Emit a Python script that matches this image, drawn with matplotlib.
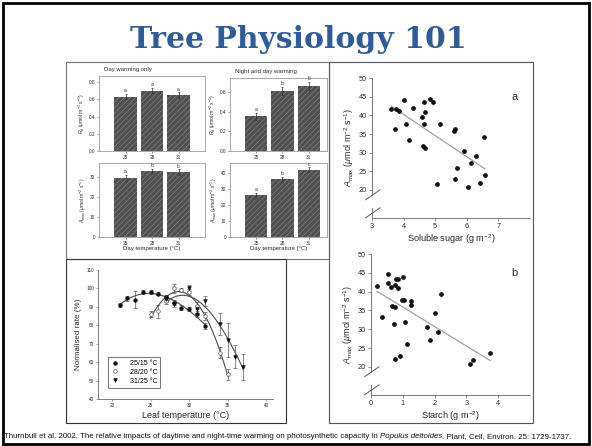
import numpy as np
import matplotlib
matplotlib.use("Agg")
import matplotlib.pyplot as plt
from matplotlib.patches import Rectangle
from matplotlib.lines import Line2D

# ---------------- data ----------------
title_text = "Tree Physiology 101"
footer_plain = ("Thurnbull et al. 2002, The relative impacts of daytime and night-time "
                "warming on photosynthetic capacity in ")
footer_italic = "Populus deltoides"
footer_tail = ". Plant, Cell, Environ. 25: 1729-1737."

day_temps = ["25", "28", "31"]
rd_day = [0.63, 0.70, 0.65]
rd_day_err = [0.03, 0.03, 0.03]
rd_day_letters = ["a", "a", "a"]
rd_night = [0.35, 0.61, 0.66]
rd_night_err = [0.04, 0.04, 0.04]
rd_night_letters = ["a", "b", "b"]
amax_day = [29.5, 32.8, 32.5]
amax_day_err = [1.6, 1.3, 1.3]
amax_day_letters = ["a", "b", "b"]
amax_night = [26.0, 35.8, 41.7]
amax_night_err = [1.5, 1.5, 1.6]
amax_night_letters = ["a", "b", "c"]

sugar_x = [3.61, 3.76, 3.87, 3.72, 4.02, 4.08, 4.17, 4.31, 4.57, 4.64, 4.68, 4.66,
           4.62, 4.67, 4.84, 4.94, 5.16, 5.06, 5.62, 5.60, 5.62, 5.70, 5.90, 6.05,
           6.12, 6.30, 6.43, 6.55, 6.57]
sugar_y = [41.6, 41.8, 41.1, 36.4, 44.0, 37.8, 33.3, 42.0, 39.5, 43.5, 41.0, 37.8,
           31.7, 31.2, 44.5, 43.5, 37.6, 21.6, 36.4, 35.7, 23.0, 25.9, 30.4, 20.8,
           27.2, 29.1, 21.8, 34.2, 23.9]

starch_x = [0.19, 0.36, 0.55, 0.52, 0.64, 0.67, 0.74, 0.78, 0.84, 0.85, 0.74, 0.72,
            0.77, 0.90, 1.02, 0.97, 1.05, 1.07, 1.13, 1.25, 1.27, 1.75, 1.84, 2.00,
            2.10, 2.20, 3.10, 3.20, 3.75]
starch_y = [41.6, 33.3, 44.6, 42.2, 41.3, 36.3, 41.8, 43.5, 43.5, 41.1, 35.8, 31.3,
            22.0, 23.0, 44.0, 37.8, 37.8, 32.0, 26.0, 37.5, 36.5, 30.5, 27.2, 34.3,
            29.2, 39.5, 20.8, 21.8, 23.8]

leaf_t_a = [21, 22, 23, 24, 25, 26, 27, 28, 29, 30, 31, 32]
rate_a = [91.0, 94.5, 93.8, 98.0, 98.0, 97.0, 95.2, 92.2, 89.5, 88.6, 86.0, 79.5]
err_a = [1.2, 1.5, 4.5, 1.2, 1.2, 0.8, 1.0, 1.5, 1.2, 1.2, 1.8, 1.8]

leaf_t_b = [25, 26, 27, 28, 29, 30, 31, 32, 34, 35]
rate_b = [86.0, 87.6, 93.0, 100.0, 99.0, 98.0, 90.5, 85.0, 65.0, 53.5]
err_b = [1.5, 3.5, 1.5, 2.5, 1.0, 1.5, 2.0, 2.0, 3.0, 3.0]

leaf_t_c = [27, 28, 30, 31, 32, 34, 35, 36, 37]
rate_c = [94.0, 91.5, 100.0, 88.5, 93.0, 80.5, 72.0, 63.0, 57.5]
err_c = [1.5, 1.5, 1.5, 2.0, 2.5, 6.0, 9.0, 6.0, 7.0]
leaf_labels = ["25/15 \u00b0C", "28/20 \u00b0C", "31/25 \u00b0C"]

# ---------------- figure ----------------
W, H = 592, 446
plt.rcParams['font.family'] = ['Liberation Sans', 'DejaVu Sans']
plt.rcParams['mathtext.fontset'] = 'custom'
plt.rcParams['mathtext.rm'] = 'Liberation Sans'
plt.rcParams['mathtext.it'] = 'Liberation Sans:italic'
plt.rcParams['hatch.linewidth'] = 0.4
fig = plt.figure(figsize=(W / 100, H / 100), dpi=100)
fig.patch.set_facecolor('white')


def ax_px(x0, y0, x1, y1):
    return fig.add_axes([x0 / W, 1 - y1 / H, (x1 - x0) / W, (y1 - y0) / H])


def fig_rect(x0, y0, x1, y1, color, lw):
    fig.patches.append(Rectangle((x0 / W, 1 - y1 / H), (x1 - x0) / W, (y1 - y0) / H,
                                 transform=fig.transFigure, fill=False,
                                 edgecolor=color, linewidth=lw, zorder=5))


def ftext(x, y, s, **kw):
    return fig.text(x / W, 1 - y / H, s, **kw)


TXT = '#2a2a2a'
# slide frame
fig_rect(3, 3, 589, 444, 'black', 2.0)

# title
ftext(298, 40, title_text, ha='center', va='center', fontsize=21.5, fontweight='bold',
      family='DejaVu Serif', color='#2e5b9a')

# panel frames
fig_rect(66, 62, 329, 259, '#777777', 0.8)
fig_rect(66, 259, 286, 423, '#333333', 0.8)
fig_rect(329, 62, 533, 423, '#555555', 0.8)

# ---------------- bar panels ----------------
rd_label = r"$R_{\rm d}$ ($\mu$mol m$^{-2}$ s$^{-1}$)"
am_label = r"$A_{\rm max}$ ($\mu$mol m$^{-2}$ s$^{-1}$)"


def bar_panel(box, vals, errs, letters, ylim, yticks, yfmt, ylabel, xmax, xlabel=None):
    ax = ax_px(*box)
    x = np.arange(len(vals))
    ax.bar(x, vals, width=0.85, color='#505050', edgecolor='#8c8c8c', hatch='//////',
           linewidth=0)
    ax.errorbar(x, vals, yerr=errs, fmt='none', ecolor='#333333', elinewidth=0.5,
                capsize=0.8, capthick=0.5)
    span = ylim[1] - ylim[0]
    for xi, v, e, l in zip(x, vals, errs, letters):
        ax.text(xi, v + e + span * 0.01, l, ha='center', va='bottom', fontsize=3.6,
                color=TXT)
    ax.set_xlim(-1, xmax)
    ax.set_ylim(*ylim)
    ax.set_xticks(x)
    ax.set_xticklabels(day_temps)
    ax.set_yticks(yticks)
    ax.set_yticklabels([yfmt.format(t) for t in yticks])
    ax.tick_params(labelsize=3.4, length=1.2, width=0.4, pad=1.5, colors='#555555',
                   labelcolor=TXT)
    for s in ax.spines.values():
        s.set_color('#9a9a9a')
        s.set_linewidth(0.6)
    ax.set_ylabel(ylabel, fontsize=3.6, labelpad=1.5, color=TXT)
    if xlabel:
        ax.set_xlabel(xlabel, fontsize=4.3, labelpad=0.5, color=TXT)
    return ax


bar_panel((99, 76, 205, 151), rd_day, rd_day_err, rd_day_letters, (0, 0.87),
          [0, 0.2, 0.4, 0.6, 0.8], "{:.1f}", rd_label, 3.0)
bar_panel((230, 78, 327, 151), rd_night, rd_night_err, rd_night_letters, (0, 0.74),
          [0, 0.2, 0.4, 0.6], "{:.1f}", rd_label, 2.7)
bar_panel((99, 163, 205, 237), amax_day, amax_day_err, amax_day_letters, (0, 37),
          [0, 10, 20, 30], "{:.0f}", am_label, 3.0, "Day temperature (\u00b0C)")
bar_panel((230, 163, 327, 237), amax_night, amax_night_err, amax_night_letters, (0, 46),
          [0, 10, 20, 30, 40], "{:.0f}", am_label, 2.7, "Day temperature (\u00b0C)")
ftext(128, 70, "Day warming only", ha='center', va='center', fontsize=4.3, color=TXT)
ftext(266, 72, "Night and day warming", ha='center', va='center', fontsize=4.3, color=TXT)


# ---------------- scatter panels ----------------
def scatter_panel(box, xs, ys, xlim, ylim, xticks, xlabel, letter, brk_hi, brk_lo):
    ax = ax_px(*box)
    ax.plot(xs, ys, 'o', ms=2.4, color='#111111', mec='#111111', zorder=3)
    k, b0 = np.polyfit(xs, ys, 1)
    xl = np.array([min(xs), max(xs)])
    ax.plot(xl, k * xl + b0, '-', color='#a0a0a0', lw=0.9, zorder=2)
    ax.set_xlim(*xlim)
    ax.set_ylim(*ylim)
    ax.set_xticks(xticks)
    ax.set_yticks([20, 25, 30, 35, 40, 45, 50])
    ax.spines['top'].set_visible(False)
    ax.spines['right'].set_visible(False)
    for s in ('left', 'bottom'):
        ax.spines[s].set_color('#666666')
        ax.spines[s].set_linewidth(0.6)
    ax.spines['left'].set_bounds(brk_hi, 50)
    ax.tick_params(labelsize=5.3, length=2, width=0.5, pad=1.5, colors='#666666',
                   labelcolor=TXT)
    ax.set_xlabel(xlabel, fontsize=6.6, labelpad=1.5, color=TXT)
    ax.set_ylabel(r"$A_{\rm max}$ ($\mu$mol m$^{-2}$ s$^{-1}$)", fontsize=6.4,
                  labelpad=2, color=TXT)
    fy = lambda v: (v - ylim[0]) / (ylim[1] - ylim[0])
    ax.add_line(Line2D([0, 0], [0, fy(brk_lo)], transform=ax.transAxes, color='#666666',
                       lw=0.6, clip_on=False))
    for y0 in (fy(brk_hi) - 0.035, fy(brk_lo) - 0.07):
        ax.add_line(Line2D([-0.04, 0.05], [y0, y0 + 0.07], transform=ax.transAxes,
                           color='#555555', lw=0.7, clip_on=False))
    ax.text(0.9, 0.86, letter, transform=ax.transAxes, fontsize=8, color=TXT,
            ha='center', va='center')
    return ax


scatter_panel((372, 77, 530, 218.3), sugar_x, sugar_y, (3, 8), (12.4, 50.3),
              [3, 4, 5, 6, 7], r"Soluble sugar (g m$^{-2}$)", "a", 18.7, 15.2)
scatter_panel((371, 253.4, 530, 395), starch_x, starch_y, (0, 5), (12.5, 50.2),
              [0, 1, 2, 3, 4], r"Starch (g m$^{-2}$)", "b", 18.7, 15.2)

# ---------------- leaf temperature panel ----------------
axl = ax_px(98, 269.7, 273.3, 399)
series = [(leaf_t_a, rate_a, err_a, dict(marker='o', mfc='#111111', mec='#111111')),
          (leaf_t_b, rate_b, err_b, dict(marker='o', mfc='white', mec='#555555')),
          (leaf_t_c, rate_c, err_c, dict(marker='v', mfc='#111111', mec='#111111'))]
handles = []
for (tx, ry, ey, st), lab in zip(series, leaf_labels):
    tx = np.array(tx, float)
    c = np.polyfit(tx, ry, 3)
    xx = np.linspace(tx.min(), tx.max(), 100)
    axl.plot(xx, np.polyval(c, xx), '-', color='#4a4a4a', lw=0.8, zorder=2)
    axl.errorbar(tx, ry, yerr=ey, fmt='none', ecolor='#555555', elinewidth=0.5,
                 capsize=1.2, capthick=0.5, zorder=3)
    h, = axl.plot(tx, ry, ls='none', ms=2.6, mew=0.5, zorder=4, label=lab, **st)
    handles.append(h)
axl.set_xlim(18.2, 40.9)
axl.set_ylim(40, 110)
axl.set_xticks([20, 25, 30, 35, 40])
axl.set_yticks([40, 50, 60, 70, 80, 90, 100, 110])
axl.spines['top'].set_visible(False)
axl.spines['right'].set_visible(False)
for s in ('left', 'bottom'):
    axl.spines[s].set_color('#666666')
    axl.spines[s].set_linewidth(0.6)
axl.tick_params(labelsize=3.4, length=1.5, width=0.4, pad=1.5, colors='#666666',
                labelcolor=TXT)
axl.set_xlabel("Leaf temperature (\u00b0C)", fontsize=6.5, labelpad=2, color=TXT)
axl.set_ylabel("Normalised rate (%)", fontsize=5.8, labelpad=3, color=TXT)
leg = axl.legend(handles=handles, loc='lower left', bbox_to_anchor=(0.057, 0.085),
                 borderaxespad=0, fontsize=5, frameon=True, fancybox=False,
                 edgecolor='#333333', handlelength=1.0, labelspacing=0.25,
                 borderpad=0.5, handletextpad=1.6)
leg.get_frame().set_linewidth(0.6)

# ---------------- footer ----------------
fig.canvas.draw()
r = fig.canvas.get_renderer()
fs = 5.4
target_w = 573.0
pieces = ((footer_plain, 'normal'), (footer_italic, 'italic'), (footer_tail, 'normal'))
# measure total width at trial size, then scale to the slide's footer width
tot = 0.0
tmp = []
for s, style in pieces:
    t = ftext(0, 437, s, fontsize=fs, family='Liberation Sans', style=style)
    tot += t.get_window_extent(renderer=r).width
    tmp.append(t)
for t in tmp:
    t.remove()
fs = fs * target_w / tot
fx = 4.0
for s, style in pieces:
    t = ftext(fx, 437, s, ha='left', va='center', fontsize=fs, family='Liberation Sans',
              style=style, color='#111111')
    fx += t.get_window_extent(renderer=r).width

fig.savefig("out.png", dpi=100, facecolor='white')
